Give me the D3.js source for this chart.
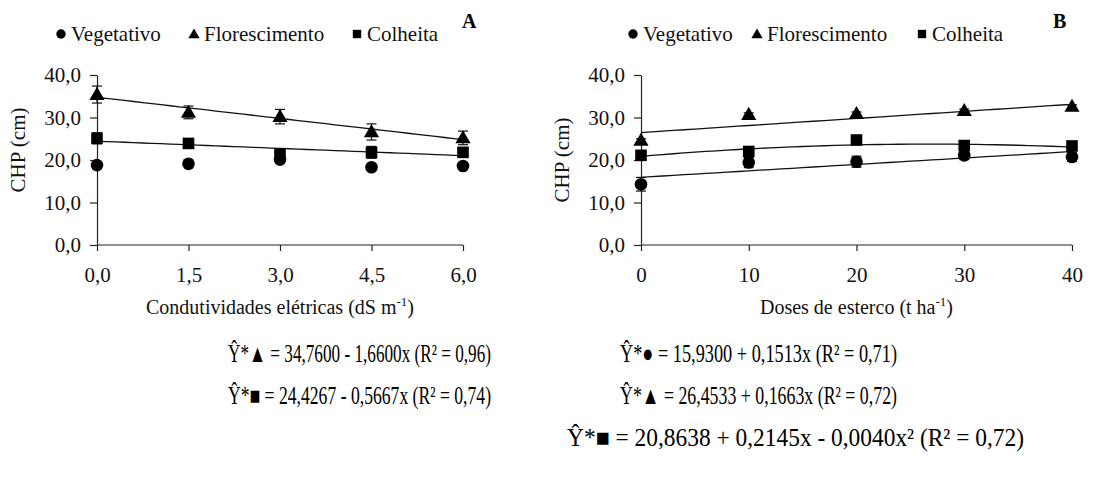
<!DOCTYPE html>
<html>
<head>
<meta charset="utf-8">
<script src="https://cdn.jsdelivr.net/npm/d3@7"></script>
<style>
  body { margin: 0; background: #fff; }
  svg { display: block; }
  .axis path, .axis line { stroke: #222; stroke-width: 1.2; }
  .fit { fill: none; stroke: #111; stroke-width: 1.3; }
  .err { stroke: #111; stroke-width: 1.2; }
</style>
</head>
<body>
<svg id="chart" width="1111" height="483"></svg>
<script>
const FONT = "'Liberation Serif', 'Times New Roman', Times, serif";

// series names for the legend
const seriesNames = ["Vegetativo", "Florescimento", "Colheita"];
const seriesSymbols = [d3.symbolCircle, d3.symbolTriangle, d3.symbolSquare];

// panel A : condutividade elétrica
const xA = [0, 1.5, 3, 4.5, 6];
const xTicksA = [0, 1.5, 3, 4.5, 6];
const vegA = [18.8, 19.1, 20.1, 18.3, 18.6];
const florA = [35.4, 31.2, 30.2, 26.6, 25.2];
const colhA = [25.1, 23.9, 21.3, 21.8, 21.8];
const vegErrA = [0.5, 0.4, 0.6, 0.4, 0.4];
const florErrA = [2.0, 1.5, 1.7, 1.9, 1.6];
const colhErrA = [1.3, 0.6, 0.8, 1.4, 0.8];
const fitFlorA = [34.76, -1.66];
const fitColhA = [24.4267, -0.5667];

// panel B : doses de esterco
const xB = [0, 10, 20, 30, 40];
const xTicksB = [0, 10, 20, 30, 40];
const vegB = [14.3, 19.4, 19.6, 21.1, 20.7];
const florB = [24.6, 30.7, 30.9, 31.6, 32.6];
const colhB = [21.1, 22.0, 24.7, 23.4, 23.3];
const vegErrB = [1.6, 1.2, 1.3, 1.0, 1.0];
const florErrB = [0.4, 0.4, 0.4, 0.4, 0.4];
const colhErrB = [0.8, 0.8, 0.9, 0.7, 0.5];
const fitVegB = [15.93, 0.1513];
const fitFlorB = [26.4533, 0.1663];
const fitColhB = [20.8638, 0.2145, -0.0040];

const yTicks = [0, 10, 20, 30, 40];

// equation texts below the panels
const eqA = ["Ŷ*▲ = 34,7600 - 1,6600x (R² = 0,96)", "Ŷ*■ = 24,4267 - 0,5667x (R² = 0,74)"];
const eqB = ["Ŷ*● = 15,9300 + 0,1513x (R² = 0,71)", "Ŷ*▲ = 26,4533 + 0,1663x (R² = 0,72)",
  "Ŷ*■ = 20,8638 + 0,2145x - 0,0040x² (R² = 0,72)"];

const svg = d3.select("#chart").attr("font-family", FONT);
svg.append("rect").attr("width", 1111).attr("height", 483).attr("fill", "#fff");

const fmt = (d) => d3.format(".1f")(d).replace(".", ",");

function poly(coefs, x) {
  return coefs.reduce((sum, c, i) => sum + c * Math.pow(x, i), 0);
}

function drawPanel(cfg) {
  const x = d3.scaleLinear().domain(cfg.xDomain).range([cfg.left, cfg.right]);
  const y = d3.scaleLinear().domain([0, 40]).range([245, 75]);
  const g = svg.append("g");

  g.append("g").attr("class", "axis")
    .attr("transform", "translate(0,245)")
    .call(d3.axisBottom(x).tickValues(cfg.xTicks).tickSize(6).tickSizeOuter(0).tickPadding(16).tickFormat(cfg.xFormat))
    .call((a) => a.select(".domain").attr("d", `M${cfg.left},0H${cfg.right}`))
    .attr("font-family", FONT).attr("font-size", 21)
    .call((a) => a.selectAll("text").attr("fill", "#111"));

  g.append("g").attr("class", "axis")
    .attr("transform", `translate(${cfg.left},0)`)
    .call(d3.axisLeft(y).tickValues(yTicks).tickSize(7).tickSizeOuter(0).tickPadding(9).tickFormat(fmt))
    .attr("font-family", FONT).attr("font-size", 21)
    .call((a) => a.selectAll("text").attr("fill", "#111"));

  // y title
  g.append("text")
    .attr("transform", `translate(${cfg.left - 77},${cfg.yTitleY}) rotate(-90)`)
    .attr("text-anchor", "middle").attr("dominant-baseline", "middle")
    .attr("font-size", 21).attr("fill", "#111").text("CHP (cm)");

  // x title
  const xt = g.append("text")
    .attr("x", (cfg.left + cfg.right) / 2).attr("y", 314)
    .attr("text-anchor", "middle").attr("font-size", 20).attr("fill", "#111");
  xt.append("tspan").text(cfg.xTitle);
  xt.append("tspan").attr("font-size", 13).attr("dy", -8).text("-1");
  xt.append("tspan").attr("dy", 8).text(")");

  // fitted lines
  const line = d3.line().x((d) => x(d[0])).y((d) => y(d[1]));
  cfg.fits.forEach((coefs) => {
    const pts = d3.range(cfg.xDomain[0], cfg.xDomain[1] + 1e-9, (cfg.xDomain[1] - cfg.xDomain[0]) / 40)
      .map((v) => [v, poly(coefs, v)]);
    g.append("path").attr("class", "fit").attr("d", line(pts));
  });

  // points and error bars
  cfg.series.forEach((s, si) => {
    s.values.forEach((v, i) => {
      const cx = x(cfg.xs[i]);
      const e = s.errs[i];
      g.append("line").attr("class", "err").attr("x1", cx).attr("x2", cx).attr("y1", y(v - e)).attr("y2", y(v + e));
      [v - e, v + e].forEach((ev) => {
        g.append("line").attr("class", "err").attr("x1", cx - 5).attr("x2", cx + 5).attr("y1", y(ev)).attr("y2", y(ev));
      });
      const size = si === 0 ? 125 : si === 1 ? 100 : 135;
      g.append("path")
        .attr("d", d3.symbol(seriesSymbols[si], size)())
        .attr("transform", `translate(${cx},${y(v) + (si === 1 ? 1 : 0)})`)
        .attr("fill", "#000");
    });
  });

  // legend
  cfg.legend.forEach((lx, i) => {
    const lg = g.append("g").attr("transform", `translate(${lx},34)`);
    lg.append("path").attr("d", d3.symbol(seriesSymbols[i], i === 1 ? 55 : 70)()).attr("fill", "#000")
      .attr("transform", `translate(0,${i === 1 ? 1 : 0})`);
    lg.append("text").attr("x", 10).attr("y", 7).attr("font-size", 21).attr("fill", "#111").text(seriesNames[i]);
  });

  g.append("text").attr("x", cfg.labelX).attr("y", 28).attr("font-size", 20)
    .attr("font-weight", "bold").text(cfg.label);
}

drawPanel({
  left: 97, right: 463, xDomain: [0, 6], xTicks: xTicksA, xFormat: fmt, xs: xA,
  xTitle: "Condutividades elétricas (dS m",
  fits: [fitFlorA, fitColhA],
  series: [
    { values: vegA, errs: vegErrA },
    { values: florA, errs: florErrA },
    { values: colhA, errs: colhErrA }
  ],
  legend: [61, 194, 357],
  yTitleY: 150,
  label: "A", labelX: 462
});

drawPanel({
  left: 641, right: 1072, xDomain: [0, 40], xTicks: xTicksB, xFormat: d3.format("d"), xs: xB,
  xTitle: "Doses de esterco  (t ha",
  fits: [fitVegB, fitFlorB, fitColhB],
  series: [
    { values: vegB, errs: vegErrB },
    { values: florB, errs: florErrB },
    { values: colhB, errs: colhErrB }
  ],
  legend: [633, 757, 922],
  yTitleY: 160,
  label: "B", labelX: 1053
});

// equations
function eqText(str, x0, x1, yy) {
  svg.append("text").attr("x", x0).attr("y", yy).attr("font-size", 25).attr("fill", "#000")
    .attr("textLength", x1 - x0).attr("lengthAdjust", "spacingAndGlyphs")
    .text(str);
}
eqText(eqA[0], 228, 491, 362);
eqText(eqA[1], 228, 491, 404);
eqText(eqB[0], 620, 897, 362);
eqText(eqB[1], 620, 897, 404);
eqText(eqB[2], 567, 1024, 446);
</script>
</body>
</html>
